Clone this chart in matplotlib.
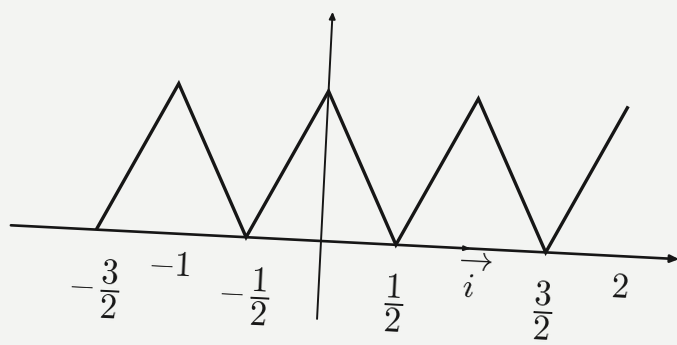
import matplotlib
matplotlib.use("Agg")
import matplotlib.pyplot as plt
from matplotlib.transforms import Affine2D

# Data: triangle wave sampled at its corners
x_points = [-1.5, -1.0, -0.5, 0.0, 0.5, 1.0, 1.5, 2.0]
y_points = [0, 1, 0, 1, 0, 1, 0, 1]

# Tick labels along the x axis
tick_values = [-1.5, -1.0, -0.5, 0.5, 1.0, 1.5, 2.0]
tick_labels = [r'$-\,\dfrac{3}{2}$', r'$-1$', r'$-\,\dfrac{1}{2}$', r'$\dfrac{1}{2}$',
               r'$\overrightarrow{\;\;i\;\;}$', r'$\dfrac{3}{2}$', r'$2$']

plt.rcParams['mathtext.fontset'] = 'cm'

W, H, DPI = 677, 345, 100
fig = plt.figure(figsize=(W / DPI, H / DPI), dpi=DPI)
bg = '#f3f4f2'
fig.patch.set_facecolor(bg)
ax = fig.add_axes([0, 0, 1, 1])
ax.set_facecolor(bg)
ax.axis('off')

scale = 150.0   # pixels per unit
ox, oy = 321.0, 104.0  # origin in pixels from bottom-left
ax.set_xlim(-ox / scale, (W - ox) / scale)
ax.set_ylim(-oy / scale, (H - oy) / scale)
ax.set_aspect('equal')

tilt = -2.9
tr = Affine2D().rotate_deg(tilt) + ax.transData

ink = '#161616'

# Curve
ax.plot(x_points, y_points, color=ink, lw=2.4, transform=tr,
        solid_joinstyle='miter', solid_capstyle='butt')

# x axis with arrow
ax.annotate('', xy=(2.39, 0), xytext=(-2.07, 0), xycoords=tr, textcoords=tr,
            arrowprops=dict(arrowstyle='-|>,head_length=0.5,head_width=0.22',
                            color=ink, lw=1.9, shrinkA=0, shrinkB=0))
# unit vector i arrowhead
ax.annotate('', xy=(1.0, 0), xytext=(0.9, 0), xycoords=tr, textcoords=tr,
            arrowprops=dict(arrowstyle='-|>,head_length=0.4,head_width=0.15',
                            color=ink, lw=1.2, shrinkA=0, shrinkB=0))
# y axis with arrow
ax.annotate('', xy=(0, 1.53), xytext=(0, -0.52), xycoords=tr, textcoords=tr,
            arrowprops=dict(arrowstyle='-|>,head_length=0.4,head_width=0.18',
                            color=ink, lw=1.4, shrinkA=0, shrinkB=0))

# Labels
for v, lab in zip(tick_values, tick_labels):
    is_frac = 'frac' in lab
    dy = -0.39 if is_frac else -0.21
    ax.text(v, dy, lab, transform=tr, ha='center', va='center',
            fontsize=25, color=ink, rotation=tilt, rotation_mode='anchor')

fig.savefig('out.png', dpi=DPI, facecolor=bg)
